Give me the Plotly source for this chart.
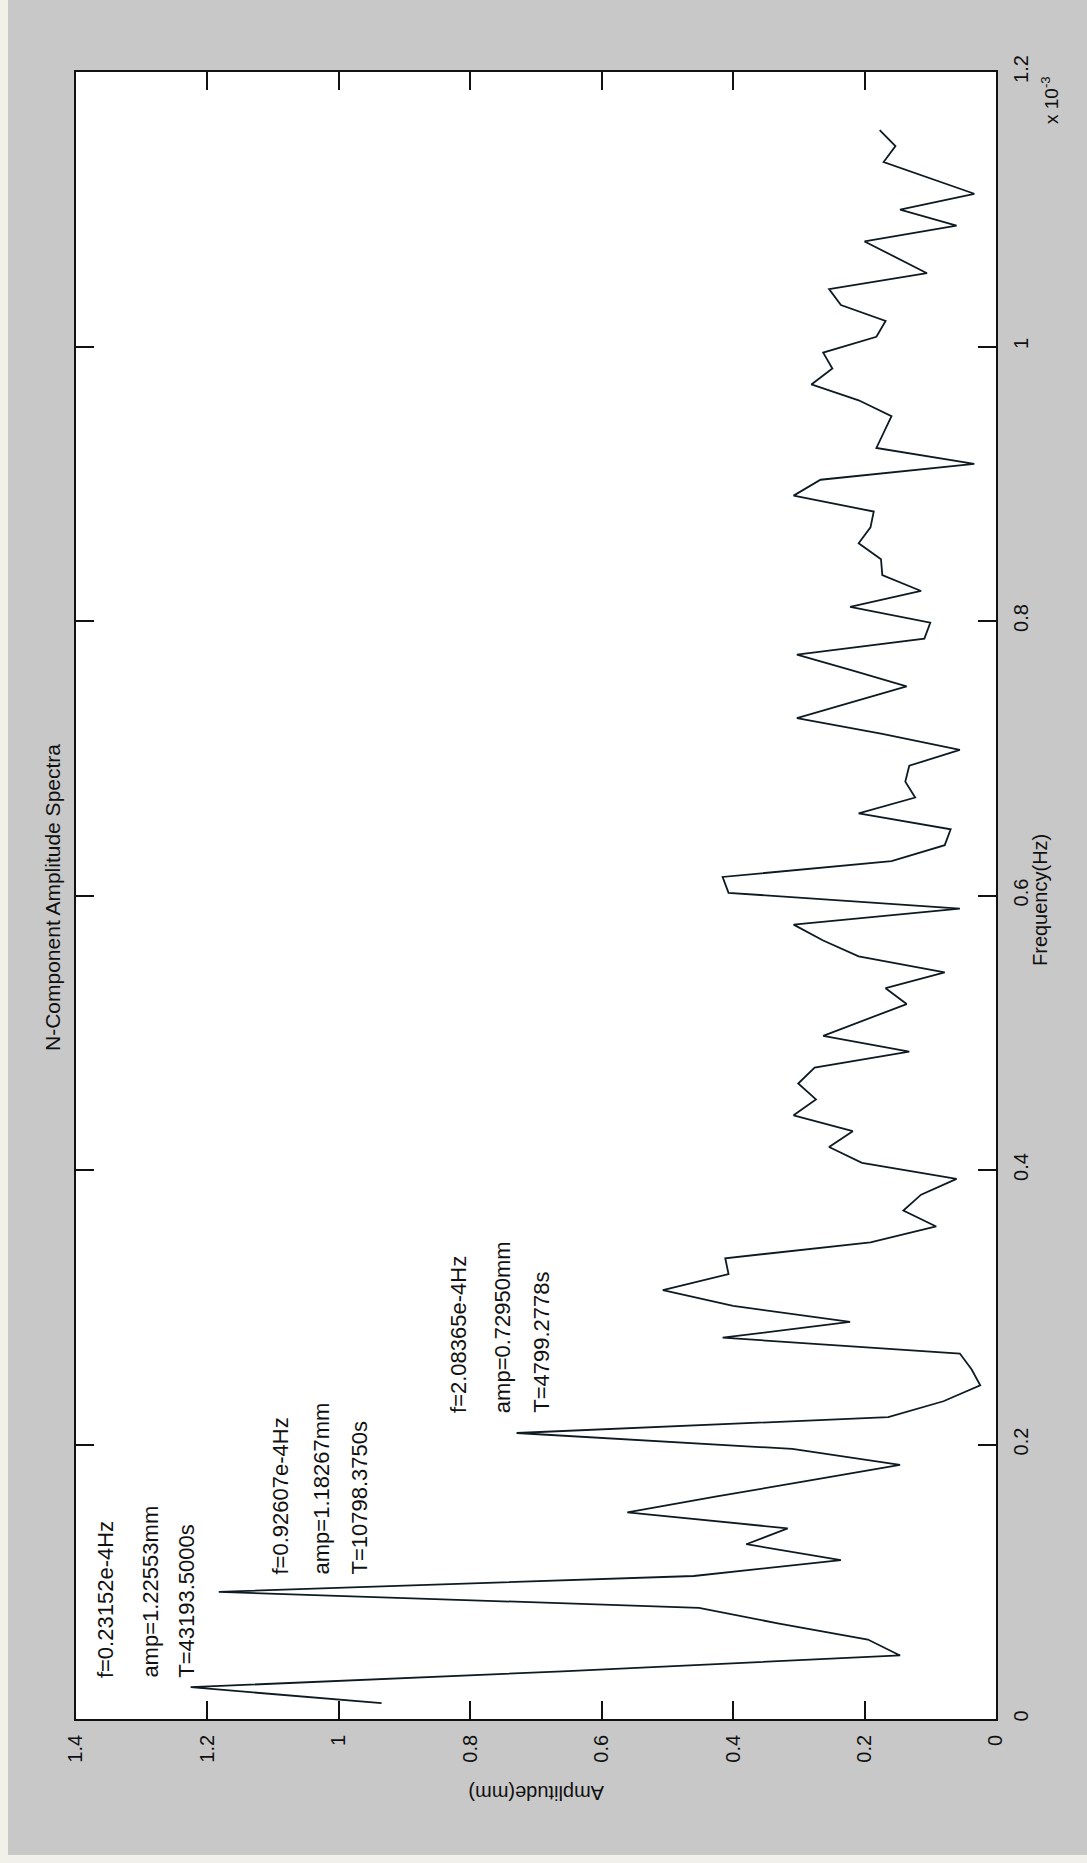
import numpy as np
import plotly.graph_objects as go

# Spectrum of the N component: amplitude (mm) at each frequency bin
record_length_s = 43193.5
amplitude_mm = [
    0.935, 1.2255, 0.66, 0.146, 0.195, 0.33, 0.452, 1.1827, 0.46, 0.236,
    0.38, 0.317, 0.561, 0.427, 0.285, 0.146, 0.31, 0.7295, 0.164, 0.08,
    0.024, 0.037, 0.055, 0.416, 0.222, 0.40, 0.507, 0.407, 0.412, 0.191,
    0.091, 0.141, 0.114, 0.060, 0.204, 0.254, 0.218, 0.308, 0.274, 0.301,
    0.276, 0.132, 0.263, 0.20, 0.136, 0.168, 0.078, 0.209, 0.263, 0.308,
    0.055, 0.407, 0.416, 0.159, 0.078, 0.069, 0.209, 0.123, 0.138, 0.132,
    0.055, 0.173, 0.303, 0.219, 0.136, 0.219, 0.303, 0.109, 0.100, 0.222,
    0.114, 0.173, 0.175, 0.209, 0.191, 0.186, 0.308, 0.267, 0.033, 0.182,
    0.171, 0.159, 0.209, 0.281, 0.249, 0.263, 0.182, 0.168, 0.236, 0.254,
    0.105, 0.153, 0.20, 0.060, 0.146, 0.033, 0.102, 0.171, 0.153, 0.177,
]
# frequency bins are spaced by half of 1/record length
freq_hz = np.arange(1, len(amplitude_mm) + 1) / (2 * record_length_s)

amp_ticks = [0, 0.2, 0.4, 0.6, 0.8, 1.0, 1.2, 1.4]
amp_tick_labels = ["0", "0.2", "0.4", "0.6", "0.8", "1", "1.2", "1.4"]
freq_ticks_hz = [0, 0.2e-3, 0.4e-3, 0.6e-3, 0.8e-3, 1.0e-3, 1.2e-3]
freq_tick_labels = ["0", "0.2", "0.4", "0.6", "0.8", "1", "1.2"]

# Peak readouts
peak_f_text = ["f=0.23152e-4Hz", "f=0.92607e-4Hz", "f=2.08365e-4Hz"]
peak_amp_text = ["amp=1.22553mm", "amp=1.18267mm", "amp=0.72950mm"]
peak_T_text = ["T=43193.5000s", "T=10798.3750s", "T=4799.2778s"]

FONT = "Liberation Sans, Arial, sans-serif"
INK = "#111111"

fig = go.Figure()
fig.add_trace(go.Scatter(
    x=amplitude_mm, y=freq_hz, mode="lines",
    line=dict(color="#0e1a22", width=1.8),
    hoverinfo="skip", showlegend=False,
))

# readout text blocks: (amplitude of each text line, bottom frequency)
readout_place = [
    ([1.355, 1.288, 1.233], 0.0284e-3),
    ([1.089, 1.026, 0.968], 0.1037e-3),
    ([0.818, 0.750, 0.692], 0.2215e-3),
]
annotations = []
for i, (xs, fb) in enumerate(readout_place):
    for x, txt in zip(xs, [peak_f_text[i], peak_amp_text[i], peak_T_text[i]]):
        annotations.append(dict(
            x=x, y=fb, xref="x", yref="y", text=txt, showarrow=False,
            textangle=-90, xanchor="center", yanchor="bottom",
            font=dict(family=FONT, size=22, color=INK),
        ))

# title, axis titles and exponent label
annotations += [
    dict(x=(52 - 76) / 920, y=(1719 - 898) / 1647, xref="paper", yref="paper",
         text="N-Component Amplitude Spectra", showarrow=False, textangle=-90,
         xanchor="center", yanchor="middle",
         font=dict(family=FONT, size=21, color=INK)),
    dict(x=(1040 - 76) / 920, y=(1719 - 900) / 1647, xref="paper", yref="paper",
         text="Frequency(Hz)", showarrow=False, textangle=-90,
         xanchor="center", yanchor="middle",
         font=dict(family=FONT, size=20, color=INK)),
    dict(x=(536 - 76) / 920, y=(1719 - 1793) / 1647, xref="paper", yref="paper",
         text="Amplitude(mm)", showarrow=False, textangle=180,
         xanchor="center", yanchor="middle",
         font=dict(family=FONT, size=20, color=INK)),
    dict(x=(1050 - 76) / 920, y=(1719 - 100) / 1647, xref="paper", yref="paper",
         text="x 10<sup>-3</sup>", showarrow=False, textangle=-90,
         xanchor="center", yanchor="middle",
         font=dict(family=FONT, size=19, color=INK)),
]

# light edge strips of the page
shapes = [
    dict(type="rect", xref="paper", yref="paper", layer="below",
         x0=-76 / 920, x1=(8 - 76) / 920, y0=-0.1, y1=1.1,
         fillcolor="#f1f0e9", line=dict(width=0)),
    dict(type="rect", xref="paper", yref="paper", layer="below",
         x0=-0.1, x1=1.2, y0=(1719 - 1870) / 1647, y1=(1719 - 1855) / 1647,
         fillcolor="#f1f0e9", line=dict(width=0)),
]

axis_common = dict(
    showgrid=False, zeroline=False, showline=True, linecolor=INK, linewidth=1.8,
    mirror="allticks", ticks="inside", ticklen=18, tickwidth=1.5, tickcolor=INK,
    tickfont=dict(family=FONT, size=20, color=INK), tickangle=-90,
)

fig.update_layout(
    width=1087, height=1863,
    margin=dict(l=76, r=91, t=72, b=144),
    paper_bgcolor="#c8c8c8", plot_bgcolor="white",
    xaxis=dict(range=[1.4, 0], tickvals=amp_ticks, ticktext=amp_tick_labels,
               side="bottom", ticklabelstandoff=6, **axis_common),
    yaxis=dict(range=[0, 1.2e-3], tickvals=freq_ticks_hz, ticktext=freq_tick_labels,
               side="right", ticklabelstandoff=6, **axis_common),
    annotations=annotations, shapes=shapes, showlegend=False,
)

fig.write_html("out.html")
